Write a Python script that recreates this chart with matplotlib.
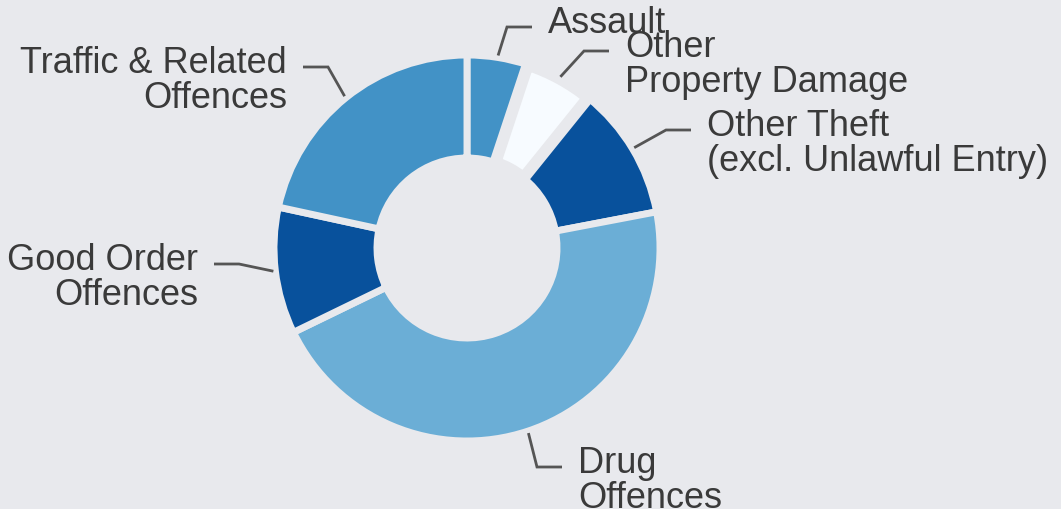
import numpy as np
import matplotlib
matplotlib.use("Agg")
import matplotlib.pyplot as plt
from matplotlib.patches import Wedge

# offence categories, clockwise from 12 o'clock
categories = ["Assault", "Other\nProperty Damage", "Other Theft\n(excl. Unlawful Entry)",
              "Drug\nOffences", "Good Order\nOffences", "Traffic & Related\nOffences"]
shares = [5.1, 5.7, 11.2, 45.8, 10.6, 21.6]
colours = ["#4292c6", "#f7fbff", "#08519c", "#6baed6", "#08519c", "#4292c6"]

# label layout in pixels: (x, first baseline, side)
label_pos = [(548, 33, "left"), (625, 57, "left"), (707, 136, "left"),
             (578, 473, "left"), (198, 270, "right"), (287, 73, "right")]

bg = "#e8e9ed"
txt = "#3a3a3a"
line_col = "#555555"
W, H = 1061, 509
cx, cy = 467, 248
R = 193
hole = 90

plt.rcParams["font.family"] = ["Liberation Sans", "DejaVu Sans"]

fig = plt.figure(figsize=(W / 100, H / 100), dpi=100)
fig.patch.set_facecolor(bg)
ax = fig.add_axes([0, 0, 1, 1])
ax.set_facecolor(bg)

face = list(colours)
face[1] = "#b4b4b8"  # grey rim for the pale slice
wedges, _ = ax.pie(shares, colors=face, startangle=-90, counterclock=True,
                   radius=R, center=(cx, cy),
                   wedgeprops=dict(width=R - hole, edgecolor=bg, linewidth=5))

# pale slice drawn again inside its grey rim
w = wedges[1]
ax.add_patch(Wedge((cx, cy), R, w.theta1, w.theta2, width=R - hole,
                   facecolor=colours[1], edgecolor=bg, linewidth=8.5))

ax.set_xlim(0, W)
ax.set_ylim(H, 0)
ax.set_aspect("equal")
ax.axis("off")

for wdg, name, (tx, ty, side) in zip(wedges, categories, label_pos):
    mid = np.deg2rad((wdg.theta1 + wdg.theta2) / 2)
    sx = cx + (R + 2) * np.cos(mid)
    sy = cy + (R + 2) * np.sin(mid)
    sign = 1 if side == "left" else -1
    ex = tx - sign * 16
    ey = ty - 6
    kx = ex - sign * 25
    ax.plot([sx, kx, ex], [sy, ey, ey], color=line_col, lw=2,
            solid_joinstyle="miter", solid_capstyle="butt")
    for i, ln in enumerate(name.split("\n")):
        ax.text(tx, ty + i * 35, ln, ha=side, va="baseline",
                fontsize=26, color=txt)

fig.savefig("out.png", dpi=100, facecolor=bg)
